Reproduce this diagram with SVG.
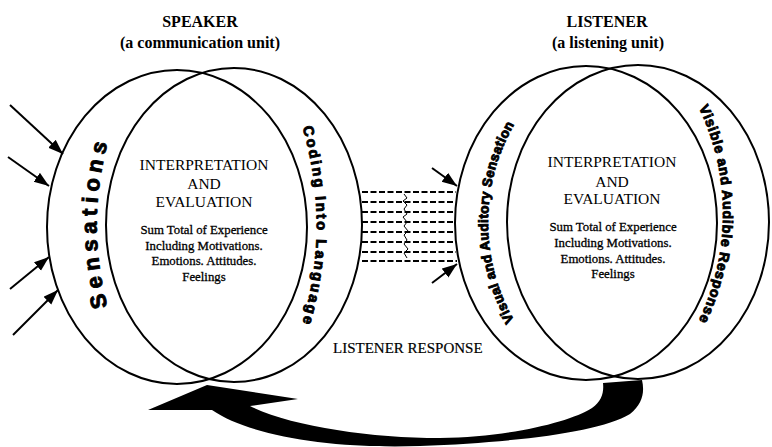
<svg xmlns="http://www.w3.org/2000/svg" width="772" height="447" viewBox="0 0 772 447">
  <style>
    .ring { fill: none; stroke: #000; stroke-width: 2; }
    .title { font-family: "Liberation Serif", serif; font-weight: bold; font-size: 16px; fill: #000; text-anchor: middle; }
    .head { font-family: "Liberation Serif", serif; font-size: 15.5px; fill: #000; text-anchor: middle; }
    .body { font-family: "Liberation Serif", serif; font-size: 12.8px; fill: #000; stroke: #000; stroke-width: 0.3; text-anchor: middle; }
    .band { font-family: "Liberation Sans", sans-serif; font-weight: 900; fill: #000; stroke: #000; stroke-width: 0.9; }
    .label { font-family: "Liberation Serif", serif; font-size: 15px; fill: #000; stroke: #000; stroke-width: 0.2; }
    .ray { stroke: #000; stroke-width: 2; fill: none; marker-end: url(#tip); }
    .wave { stroke: #000; stroke-width: 1.8; stroke-dasharray: 6 2.5; fill: none; }
  </style>
  <defs>
    <marker id="tip" markerUnits="userSpaceOnUse" markerWidth="16" markerHeight="12" refX="15" refY="5.5" orient="auto">
      <path d="M0,0 L15,5.5 L0,11 Z" fill="#000"/>
    </marker>
    <path id="arcSens" d="M 123,350 A 311,311 0 0 1 123,100"/>
    <path id="arcCode" d="M 293,100 A 341,341 0 0 1 293,350"/>
    <path id="arcVis" d="M 531,345 A 196,196 0 0 1 531,100"/>
    <path id="arcResp" d="M 689.5,90 A 246,246 0 0 1 689.5,338"/>
  </defs>
  <rect width="772" height="447" fill="#fff"/>

  <!-- Speaker unit -->
  <g id="speaker">
    <ellipse class="ring" cx="177" cy="227" rx="130" ry="157"/>
    <ellipse class="ring" cx="234" cy="225" rx="128" ry="157"/>
    <text class="title" x="200" y="27">SPEAKER</text>
    <text class="title" x="200" y="48">(a communication unit)</text>
    <text class="head" x="204" y="170">INTERPRETATION</text>
    <text class="head" x="204" y="189">AND</text>
    <text class="head" x="204" y="207">EVALUATION</text>
    <text class="body" x="204" y="234">Sum Total of Experience</text>
    <text class="body" x="204" y="250">Including Motivations.</text>
    <text class="body" x="204" y="265">Emotions. Attitudes.</text>
    <text class="body" x="204" y="281">Feelings</text>
    <text class="band" font-size="22"><textPath href="#arcSens" startOffset="50%" text-anchor="middle" textLength="165" lengthAdjust="spacing">Sensations</textPath></text>
    <text class="band" font-size="14.5"><textPath href="#arcCode" startOffset="50%" text-anchor="middle" textLength="198" lengthAdjust="spacing">Coding Into Language</textPath></text>
  </g>

  <!-- Listener unit -->
  <g id="listener">
    <ellipse class="ring" cx="586" cy="223" rx="131" ry="157"/>
    <ellipse class="ring" cx="638" cy="222" rx="131" ry="157"/>
    <text class="title" x="607" y="27">LISTENER</text>
    <text class="title" x="608" y="48">(a listening unit)</text>
    <text class="head" x="612" y="167">INTERPRETATION</text>
    <text class="head" x="612" y="187">AND</text>
    <text class="head" x="612" y="204">EVALUATION</text>
    <text class="body" x="613" y="231">Sum Total of Experience</text>
    <text class="body" x="613" y="247">Including Motivations.</text>
    <text class="body" x="613" y="263">Emotions. Attitudes.</text>
    <text class="body" x="613" y="278">Feelings</text>
    <text class="band" font-size="13.5"><textPath href="#arcVis" startOffset="50%" text-anchor="middle" textLength="205" lengthAdjust="spacing">Visual and Auditory Sensation</textPath></text>
    <text class="band" font-size="14"><textPath href="#arcResp" startOffset="50%" text-anchor="middle" textLength="220" lengthAdjust="spacing">Visible and Audible Response</textPath></text>
  </g>

  <!-- Connectors -->
  <g id="connectors">
    <!-- incoming stimuli -->
    <line class="ray" x1="10" y1="105" x2="63" y2="154"/>
    <line class="ray" x1="8" y1="157" x2="49" y2="186"/>
    <line class="ray" x1="10" y1="289" x2="49" y2="257"/>
    <line class="ray" x1="13" y1="335" x2="58" y2="290"/>
    <line class="ray" x1="432" y1="168" x2="457" y2="186"/>
    <line class="ray" x1="432" y1="283" x2="457" y2="264"/>
    <!-- transmission channel -->
    <line class="wave" x1="362" y1="192" x2="456" y2="192"/>
    <line class="wave" x1="362" y1="202" x2="455" y2="202"/>
    <line class="wave" x1="362" y1="212" x2="455" y2="212"/>
    <line class="wave" x1="362" y1="222" x2="455" y2="222"/>
    <line class="wave" x1="362" y1="232" x2="455" y2="232"/>
    <line class="wave" x1="362" y1="242" x2="455" y2="242"/>
    <line class="wave" x1="362" y1="252" x2="456" y2="252"/>
    <line class="wave" x1="362" y1="261" x2="457" y2="261"/>
    <path d="M 404,194 l 3,4 l -4,3 l 4,4 l -3,4 l 3,5 l -4,3 l 4,5 l -3,4 l 4,5 l -4,4 l 3,5 l -3,4 l 4,5 l -4,4 l 3,5" fill="none" stroke="#000" stroke-width="1"/>
    <!-- feedback -->
    <text class="label" x="333" y="353">LISTENER RESPONSE</text>
    <path d="M 148,410 L 207,385 L 298,399 L 250,406 C 290,426 370,438 440,438 C 510,437 570,422 592,408 C 602,401 604,392 603,383 L 642,380 C 645,393 642,404 630,414 C 600,432 520,442 420,446 C 330,449 250,436 212,410 Z" fill="#000"/>
  </g>
</svg>
